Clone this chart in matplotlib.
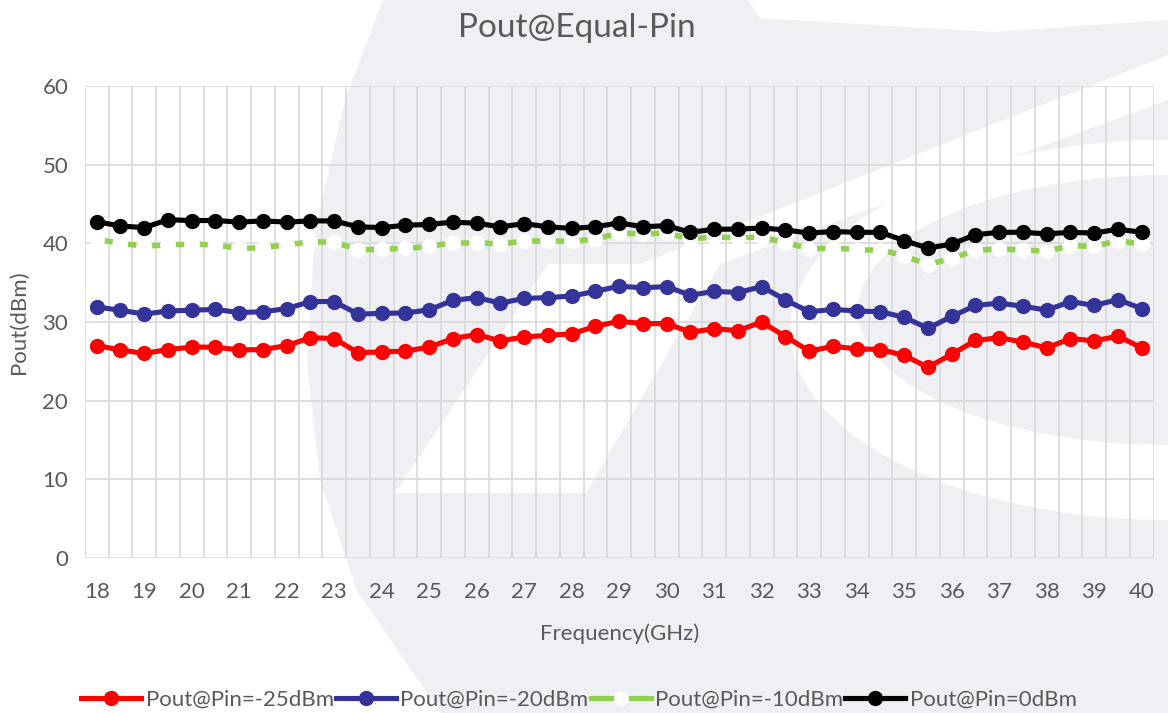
import matplotlib
matplotlib.use('Agg')
import matplotlib.pyplot as plt
from matplotlib.patches import Polygon
from matplotlib.collections import LineCollection
from matplotlib.lines import Line2D
import numpy as np

# frequency categories (GHz)
freq = [18, 18.5, 19, 19.5, 20, 20.5, 21, 21.5, 22, 22.5, 23, 23.5, 24, 24.5,
        25, 25.5, 26, 26.5, 27, 27.5, 28, 28.5, 29, 29.5, 30, 30.5, 31, 31.5,
        32, 32.5, 33, 33.5, 34, 34.5, 35, 35.5, 36, 36.5, 37, 37.5, 38, 38.5,
        39, 39.5, 40]

pout_m25 = [27.0, 26.45, 26.0, 26.5, 26.8, 26.8, 26.45, 26.5, 27.0, 28.0, 27.9,
            26.1, 26.2, 26.3, 26.8, 27.9, 28.4, 27.6, 28.1, 28.3, 28.5, 29.45,
            30.1, 29.8, 29.8, 28.7, 29.15, 28.9, 30.0, 28.15, 26.3, 26.9, 26.6,
            26.5, 25.75, 24.25, 25.9, 27.65, 28.0, 27.45, 26.7, 27.9, 27.6, 28.2,
            26.7]
pout_m20 = [31.9, 31.5, 31.0, 31.4, 31.5, 31.6, 31.2, 31.3, 31.7, 32.6, 32.6,
            31.0, 31.1, 31.15, 31.55, 32.75, 33.1, 32.4, 33.0, 33.1, 33.3, 33.9,
            34.55, 34.35, 34.5, 33.4, 33.9, 33.75, 34.5, 32.8, 31.3, 31.6, 31.4,
            31.3, 30.6, 29.2, 30.7, 32.1, 32.4, 32.0, 31.5, 32.6, 32.1, 32.85,
            31.7]
pout_m10 = [40.5, 40.0, 39.65, 39.8, 39.9, 39.8, 39.35, 39.45, 39.8, 40.2, 40.2,
            39.15, 39.25, 39.35, 39.6, 40.1, 40.1, 39.9, 40.3, 40.3, 40.25, 40.55,
            41.3, 41.2, 41.3, 40.55, 40.8, 40.7, 40.8, 40.1, 39.3, 39.4, 39.2,
            39.2, 38.4, 37.3, 38.1, 39.1, 39.3, 39.15, 39.0, 39.7, 39.6, 40.35,
            39.9]
pout_0 = [42.75, 42.2, 42.0, 43.0, 42.9, 42.9, 42.7, 42.85, 42.7, 42.85, 42.85,
          42.1, 42.0, 42.3, 42.4, 42.7, 42.55, 42.1, 42.5, 42.1, 41.9, 42.1,
          42.6, 42.1, 42.25, 41.4, 41.8, 41.8, 41.95, 41.7, 41.3, 41.5, 41.4,
          41.4, 40.35, 39.4, 39.9, 41.1, 41.4, 41.4, 41.2, 41.4, 41.3, 41.8,
          41.4]

series = [
    ('Pout@Pin=-25dBm', pout_m25, '#FF0000', '#FF0000', False),
    ('Pout@Pin=-20dBm', pout_m20, '#333399', '#333399', False),
    ('Pout@Pin=-10dBm', pout_m10, '#92D050', '#FFFFFF', True),
    ('Pout@Pin=0dBm', pout_0, '#000000', '#000000', False),
]

W, H = 1168, 713
TXT = '#595959'
LW, MS = 3.7, 11
plt.rcParams['font.family'] = ['Lato', 'DejaVu Sans']
plt.rcParams['lines.scale_dashes'] = False

fig = plt.figure(figsize=(W / 100, H / 100), dpi=100)


def px(x, y):
    return (x / W, 1 - y / H)


def add_shape(pts, color, z):
    fig.patches.append(Polygon([px(*p) for p in pts], closed=True,
                               transform=fig.transFigure, fc=color, ec='none', zorder=z))


# faint background logo
add_shape([(383, 0), (345, 100), (315, 230), (307, 364), (320, 480), (357, 591),
           (441, 713), (1168, 713), (1168, 0)], '#EFF0F4', 0)
add_shape([(748, 0), (1168, 0), (1168, 20), (993, 32), (760, 18)], 'white', 0.5)
add_shape([(395, 493), (548, 264), (640, 264), (1168, 55), (1168, 100), (720, 264),
           (586, 493)], 'white', 0.5)
t = np.linspace(np.pi / 2, 3 * np.pi / 2, 60)
outer = list(zip(1168 + 378 * np.cos(t), 330 - 190 * np.sin(t)))
inner = list(zip(1168 + 310 * np.cos(t[::-1]), 310 - 135 * np.sin(t[::-1])))
add_shape(outer + inner, 'white', 0.5)

ax = fig.add_axes([84.8 / W, 1 - 558 / H, (1153.6 - 84.8) / W, (558 - 86) / H])
ax.set_facecolor('none')
ax.set_zorder(2)

x = np.arange(len(freq))
handles = []
for label, vals, col, mcol, dashed in series:
    if dashed:
        pts = np.column_stack([x, vals])
        segs = np.stack([pts[:-1], pts[1:]], axis=1)
        # one short dash centred between neighbouring markers
        ax.add_collection(LineCollection(segs, colors=col, linewidths=LW + 0.3,
                                         linestyles=[(6.2 + 30 - 5.4, (6.2, 30))],
                                         capstyle='butt'))
        ax.plot(x, vals, ls='none', marker='o', ms=MS, mfc=mcol, mec=mcol, mew=0)
    else:
        ax.plot(x, vals, color=col, lw=LW, marker='o', ms=MS,
                mfc=mcol, mec=mcol, mew=0, solid_capstyle='round')
    handles.append(Line2D([], [], color=col, lw=LW, marker='o', ms=MS,
                          mfc=mcol, mec=mcol, mew=0, label=label))

ax.set_xlim(-0.5, len(freq) - 0.5)
ax.set_ylim(0, 60)
ax.set_yticks(np.arange(0, 61, 10))
ax.set_xticks(x[::2])
ax.set_xticklabels([f'{f:g}' for f in freq[::2]])
ax.set_xticks(np.arange(-0.5, len(freq), 1), minor=True)
ax.grid(which='minor', axis='x', color='#D9D9D9', lw=1.2)
ax.grid(which='major', axis='y', color='#D9D9D9', lw=1.2)
ax.set_axisbelow(True)
ax.tick_params(which='both', length=0, colors=TXT, labelsize=16)
ax.tick_params(axis='x', pad=17)
ax.tick_params(axis='y', pad=12)
for s in ax.spines.values():
    s.set_visible(False)

ax.set_xlabel('Frequency(GHz)', fontsize=16, color=TXT, labelpad=16)
ax.set_ylabel('Pout(dBm)', fontsize=16, color=TXT, labelpad=10)
fig.text(577 / W, 1 - 28 / H, 'Pout@Equal-Pin', ha='center', va='center',
         fontsize=24, color=TXT)

fig.legend(handles=handles, loc='center', bbox_to_anchor=(579 / W, 1 - 700 / H), ncol=4,
           frameon=False, fontsize=16, handlelength=2.7, handletextpad=0.2,
           columnspacing=0.1, labelcolor=TXT)

fig.savefig('out.png', dpi=100)
